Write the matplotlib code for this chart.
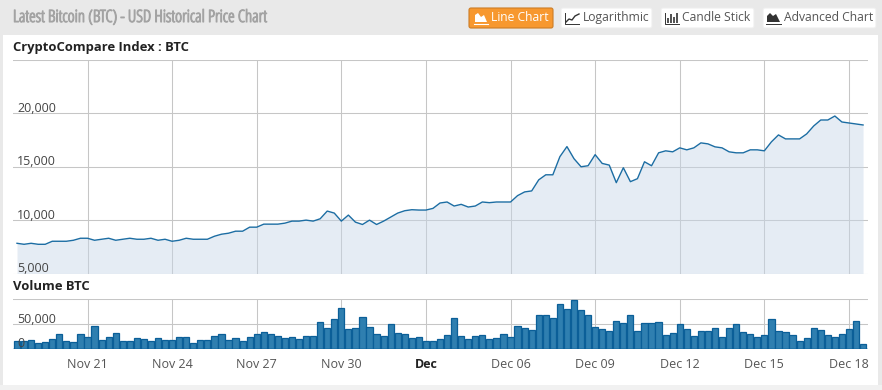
import numpy as np
import matplotlib
matplotlib.use('Agg')
import matplotlib.pyplot as plt
import matplotlib.patheffects as pe
from matplotlib.patches import FancyBboxPatch, Rectangle, Polygon

W, H = 882, 390

# 6-hourly samples
price = [7830, 7736, 7830, 7736, 7736, 8020, 8020, 8020, 8113, 8302, 8302, 8113, 8208, 8302, 8113,
         8208, 8302, 8208, 8208, 8302, 8113, 8208, 8020, 8113, 8302, 8208, 8208, 8208, 8490, 8680,
         8774, 8963, 8963, 9340, 9340, 9623, 9623, 9623, 9717, 9906, 9906, 10000, 9906, 10126, 10849,
         10660, 9906, 10472, 9811, 9591, 10000, 9591, 9906, 10283, 10660, 10881, 10975, 10943, 10943,
         11100, 11604, 11698, 11321, 11478, 11227, 11321, 11698, 11635, 11698, 11698, 11698, 12296,
         12642, 12736, 13774, 14246, 14246, 15944, 16888, 15755, 15000, 15095, 16133, 15311, 15155,
         13509, 14907, 13602, 13882, 15466, 15093, 16305, 16491, 16398, 16770, 16584, 16770, 17236,
         17143, 16864, 16770, 16398, 16305, 16305, 16584, 16584, 16491, 17330, 17982, 17609, 17609,
         17609, 18075, 18820, 19379, 19379, 19752, 19193, 19100, 19007, 18914]
volume = [15070, 15070, 17125, 10960, 13015, 19180, 29455, 15070, 13015, 29455, 23290, 45895, 17125,
          23290, 31510, 15070, 15070, 21235, 19180, 15070, 21235, 17125, 17125, 23290, 23290, 10960,
          17125, 17125, 25345, 29455, 17125, 21235, 15070, 23290, 29455, 33565, 29455, 25345, 21235,
          23290, 19180, 25345, 25345, 54115, 41785, 60280, 82885, 39730, 41785, 64390, 43840, 29455,
          25345, 50005, 31510, 29455, 21235, 23290, 15070, 15070, 19180, 27400, 62335, 25345, 19180,
          25345, 27400, 19180, 21235, 29455, 23290, 45895, 41785, 37675, 68500, 68500, 62335, 91105,
          80830, 99325, 78775, 68500, 43840, 39730, 35620, 56170, 52060, 68500, 35620, 52060, 52060,
          54115, 27400, 31510, 50005, 39730, 25345, 35620, 35620, 41785, 23290, 41785, 50005, 33565,
          29455, 23290, 27400, 60280, 35620, 33565, 27400, 15070, 21235, 41785, 37675, 27400, 23290,
          29455, 39730, 56170, 8905]
date_labels = ['Nov 21', 'Nov 24', 'Nov 27', 'Nov 30', 'Dec', 'Dec 06', 'Dec 09', 'Dec 12', 'Dec 15', 'Dec 18']
date_ticks = [10, 22, 34, 46, 58, 70, 82, 94, 106, 118]
price_ticks = [5000, 10000, 15000, 20000, 25000]
volume_ticks = [0, 50000, 100000]

GRID = '#c6c6c6'
LINE = '#1c6da3'
plt.rcParams['font.family'] = ['Open Sans', 'DejaVu Sans']


def make_axes(left, top, right, bottom):
    a = fig.add_axes([left / W, 1 - bottom / H, (right - left) / W, (bottom - top) / H])
    a.patch.set_alpha(0)
    for s in a.spines.values():
        s.set_visible(False)
    a.set_axisbelow(True)
    a.grid(True, color=GRID, lw=0.75)
    a.tick_params(length=0, labelleft=False, labelbottom=False)
    a.set_xlim(-0.567, 120.7)
    a.set_xticks(date_ticks)
    return a


def button(x0, x1, label, face, edge, color, text_x):
    back.add_patch(FancyBboxPatch((x0 + 1, 8), x1 - x0 - 2, 20, boxstyle='round,pad=0,rounding_size=2',
                                  fc=face, ec=edge, lw=0.8, zorder=1))
    back.text(text_x, 17.5, label, color=color, fontsize=8.7, va='center', ha='left', zorder=3)


fig = plt.figure(figsize=(W / 100, H / 100), dpi=100, facecolor='#e9e9e9')

# page chrome in pixel coordinates
back = fig.add_axes([0, 0, 1, 1])
back.set_xlim(0, W)
back.set_ylim(H, 0)
back.axis('off')
back.add_patch(Rectangle((3, 35), 875, 350, fc='white', ec='none'))
back.add_patch(Rectangle((0, 385), W, 5, fc='#f1f1f1', ec='none'))
back.text(13, 18, 'Latest Bitcoin (BTC) - USD Historical Price Chart', color='#a3a3a3', fontsize=12.2,
          fontweight=300, stretch='condensed', va='center',
          path_effects=[pe.withStroke(linewidth=0.8, foreground='#a3a3a3')])
back.text(13, 47.5, 'CryptoCompare Index : BTC', color='#222222', fontsize=9.4, fontweight='bold', va='center')
back.text(13, 286.5, 'Volume BTC', color='#222222', fontsize=9.4, fontweight='bold', va='center')

button(468, 554, 'Line Chart', '#f7982f', '#cc7d25', 'white', 491)
button(560, 653, 'Logarithmic', 'white', '#eeeeee', '#555555', 583)
button(660, 755, 'Candle Stick', 'white', '#eeeeee', '#555555', 682)
button(762, 877, 'Advanced Chart', 'white', '#eeeeee', '#555555', 784)

# button icons
back.add_patch(Polygon([(475, 22), (475, 15), (478, 13), (481, 17), (484, 15), (487, 22)], fc='white', ec='none', zorder=3))
back.plot([474, 488], [23.5, 23.5], color='white', lw=0.8, zorder=3)
back.plot([566, 569, 572, 575, 579], [22, 19, 20, 16, 14], color='#333333', lw=1, zorder=3)
back.plot([565, 565, 579], [13, 23.5, 23.5], color='#333333', lw=0.7, zorder=3)
back.vlines([668, 671, 674, 677], [18, 14, 17, 13], [23, 23, 23, 23], color='#333333', lw=1.2, zorder=3)
back.plot([665, 665, 679], [13, 23.5, 23.5], color='#333333', lw=0.7, zorder=3)
back.add_patch(Polygon([(767, 22), (767, 16), (770, 13), (773, 16), (776, 14), (780, 22)], fc='#333333', ec='none', zorder=3))
back.plot([766, 781], [23.5, 23.5], color='#333333', lw=0.7, zorder=3)

# price panel
ax = make_axes(13, 60, 868, 273.5)
ax.set_ylim(5000, 25000)
ax.set_yticks(price_ticks)
t = np.arange(len(price))
ax.fill_between(t, price, 5000, color='#c6d7e8', alpha=0.45, lw=0, zorder=2)
ax.plot(t, price, color=LINE, lw=1.0, zorder=3)
for v in price_ticks[:-1]:
    ax.annotate(f'{v:,}', (0, v), xytext=(0, 1.0), textcoords='offset points', color='#444444', fontsize=9,
                ha='left', va='baseline', zorder=4)

# volume panel
ax2 = make_axes(13, 299, 868, 348.5)
ax2.set_ylim(0, 101000)
ax2.set_yticks(volume_ticks)
ax2.bar(t, volume, width=0.88, facecolor='#2f7fb0', edgecolor='#0b5f98', lw=0.9, zorder=2)
ax2.axhline(0, color='#0b5f98', lw=1.0, zorder=3)
for v in volume_ticks[:-1]:
    ax2.annotate(f'{v:,}', (0, v), xytext=(0, 0.8), textcoords='offset points', color='#444444', fontsize=9,
                 ha='left', va='baseline', zorder=4)

ax2.tick_params(axis='x', labelbottom=True, pad=7, labelsize=9, labelcolor='#555555')
ax2.set_xticklabels(date_labels)
ax2.get_xticklabels()[4].set_fontweight('bold')
ax2.get_xticklabels()[4].set_color('#222222')

fig.savefig('out.png', dpi=100, facecolor=fig.get_facecolor())
